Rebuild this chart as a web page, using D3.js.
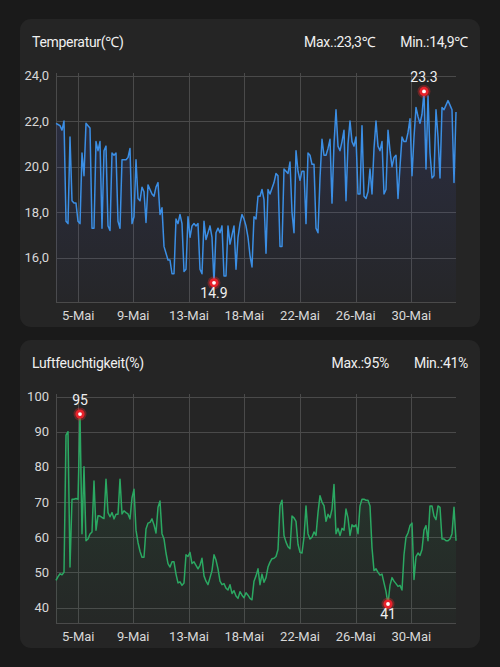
<!DOCTYPE html>
<html lang="de">
  <head>
    <meta charset="utf-8">
    <title>Temperatur / Luftfeuchtigkeit</title>
    <script src="https://cdn.jsdelivr.net/npm/d3@7"></script>
  </head>
  <style type="text/css">
    body {
      margin: 0;
      background: #1a1a1a;
    }
    text {
      font-family: Roboto, "Noto Sans", sans-serif;
    }
    text.head {
      font-size: 14px;
      letter-spacing: -0.3px;
      fill: #f0f0f0;
    }
  </style>
  <body>
    <div id="svg-area"></div>
    <script>
      const svg_width = 500;
      const svg_height = 667;

      // x axis: samples are evenly spaced, labels sit at sample positions
      const tick_labels = ["5-Mai", "9-Mai", "13-Mai", "18-Mai", "22-Mai", "26-Mai", "30-Mai"];
      const tick_index = [11.15, 38.65, 66.5, 94.15, 122, 149.85, 177.65];

      const temp_ticks = [16, 18, 20, 22, 24];
      const hum_ticks = [40, 50, 60, 70, 80, 90, 100];

      const temp_values = [
        21.9, 21.85, 21.8, 21.6, 22.0, 17.6, 17.5, 21.3, 18.5, 18.4,
        18.4, 17.6, 17.5, 20.6, 19.6, 21.9, 21.8, 21.7, 17.3, 17.3,
        21.1, 20.7, 21.1, 17.3, 20.7, 20.9, 17.4, 17.2, 20.6, 20.5,
        20.6, 17.6, 17.3, 20.3, 20.3, 20.3, 20.4, 20.8, 17.5, 17.8,
        20.3, 18.6, 18.5, 19.1, 18.9, 17.55, 19.2, 19.0, 18.8, 18.7,
        19.1, 19.3, 17.9, 18.2, 16.5, 16.2, 15.9, 15.9, 15.3, 15.3,
        17.7, 17.5, 17.9, 17.5, 15.4, 15.5, 17.8, 16.9, 17.4, 17.5,
        17.4, 17.5, 15.5, 15.3, 17.6, 16.8, 17.1, 17.4, 16.9, 14.9,
        17.1, 17.3, 17.1, 17.4, 15.2, 15.2, 17.4, 16.6, 17.0, 17.4,
        15.5, 16.9, 17.5, 17.9, 17.7, 17.4, 16.9, 16.1, 15.6, 17.8,
        17.7, 18.7, 18.7, 19.0, 18.55, 16.2, 19.0, 18.8, 19.05, 19.3,
        19.7, 19.6, 16.5, 16.5, 19.9, 19.8, 19.7, 20.2, 18.0, 17.1,
        20.7, 19.8, 19.4, 19.8, 19.8, 17.5, 20.6, 20.5, 20.1, 20.1,
        17.3, 17.1, 19.5, 21.2, 20.5, 20.5, 20.8, 21.2, 18.4, 21.0,
        22.5, 20.9, 20.7, 21.1, 21.6, 18.5, 21.0, 22.0, 21.1, 20.9,
        21.3, 18.8, 18.8, 21.8, 18.7, 18.6, 18.9, 19.9, 18.8, 20.8,
        22.0, 20.9, 20.7, 21.1, 18.8, 19.0, 21.6, 20.7, 20.0, 20.4,
        20.5, 18.6, 20.0, 21.3, 21.1, 21.1, 21.5, 22.1, 19.6, 21.3,
        22.6, 22.2, 21.9, 22.3, 23.3, 19.9, 23.1, 20.6, 19.5, 19.6,
        22.5, 21.3, 19.5, 22.6, 22.5, 22.7, 22.9, 22.7, 22.5, 19.3,
        22.4
      ];

      const hum_values = [
        47.7, 48.8, 49.6, 49.3, 50.0, 89, 90.0, 51.5, 70.8, 70.8,
        71.0, 70.8, 95, 61, 80, 59, 59.5, 60.9, 61.5, 76,
        62, 66.1, 66, 65.6, 65.3, 76.5, 67, 65.8, 67, 65.2,
        66.5, 66.5, 76.5, 66.6, 67.5, 67, 66.6, 65.2, 71.2, 73.6,
        62, 58.5, 56, 54.3, 54.3, 62.3, 64, 64.2, 65.2, 63.5,
        61.2, 68.5, 70.3, 61, 59.5, 55.5, 52.5, 51.5, 53, 53,
        49.5, 47, 47.3, 46.3, 47, 55, 54.5, 55.7, 52.5, 53,
        52, 51, 52, 54, 49, 47.5, 46.5, 48.5, 50.5, 55,
        53.5, 51, 47.5, 46.5, 46.8, 45.5, 45, 46.5, 44, 44.8,
        43.3, 42.6, 44.5, 43.5, 42.8, 44.2, 43.5, 42.6, 42.2, 47.5,
        49, 51, 46.5, 49.5, 47.2, 48.5, 51.5, 52.9, 53.9, 54,
        54.5, 56.5, 69, 70.5, 60.5, 58.6, 57.3, 56.7, 66, 65.5,
        64.5, 58, 55.7, 55.5, 60, 68.9, 61, 59.5, 60, 61.5,
        60.5, 67, 71.8, 70, 69, 64.5, 66.5, 65.5, 68, 75,
        61, 62.5, 60.5, 62.5, 62, 68, 65.5, 60.5, 63.5, 63,
        63.5, 61, 68.9, 70.8, 70.8, 70.5, 70.5, 68.9, 57, 50.5,
        51, 50, 49.2, 49.5, 47, 44.6, 41, 46.3, 48.5, 47.5,
        46.8, 46, 46.3, 45, 55, 60, 61.2, 63.3, 64, 48,
        54.5, 55.5, 54.8, 56.5, 62, 63.3, 59, 68.9, 68.9, 66,
        65, 68.9, 68.5, 59.5, 59.5, 59, 59, 59.5, 61, 68.5,
        59
      ];

      const svg = d3.select('#svg-area')
        .append('svg')
        .attr('width', svg_width)
        .attr('height', svg_height);

      const defs = svg.append('defs');

      const charts = [
        {
          id: 'temp', top: 19, title: 'Temperatur(℃)',
          values: temp_values, ticks: temp_ticks, color: '#3b8ee4', fill: '#4a5ee0',
          fmt: (v) => d3.format('.1f')(v).replace('.', ','),
          stat: (v) => d3.format('.1f')(v).replace('.', ',') + '℃',
          mark: d3.format('.1f')
        },
        {
          id: 'hum', top: 340, title: 'Luftfeuchtigkeit(%)',
          values: hum_values, ticks: hum_ticks, color: '#2ba862', fill: '#2ba862',
          fmt: d3.format('d'),
          stat: (v) => d3.format('d')(v) + '%',
          mark: d3.format('d')
        }
      ];

      const card_x = 20, card_w = 460, card_h = 308;
      const plot_left = 56, plot_right = 456;

      charts.forEach((c) => {
        const g = svg.append('g').attr('transform', `translate(0,${c.top})`);

        g.append('rect')
          .attr('x', card_x)
          .attr('y', 0)
          .attr('width', card_w)
          .attr('height', card_h)
          .attr('rx', 11)
          .attr('fill', '#252525');

        const vmax = d3.max(c.values);
        const vmin = d3.min(c.values);
        const y_lo = vmin - (vmax - vmin) * 0.1;
        const y_hi = d3.max(c.ticks);

        const x = d3.scaleLinear()
          .domain([0, c.values.length - 1])
          .range([plot_left, plot_right]);
        const y = d3.scaleLinear()
          .domain([y_lo, y_hi])
          .range([283, 56.5]);

        // header texts
        g.append('text')
          .attr('class', 'head')
          .attr('x', 32)
          .attr('y', 28)
          .text(c.title);
        const min_text = g.append('text')
          .attr('class', 'head')
          .attr('x', 468)
          .attr('y', 28)
          .attr('text-anchor', 'end')
          .text('Min.:' + c.stat(vmin));
        const min_w = min_text.node().getComputedTextLength();
        g.append('text')
          .attr('class', 'head')
          .attr('x', 468 - min_w - 25)
          .attr('y', 28)
          .attr('text-anchor', 'end')
          .text('Max.:' + c.stat(vmax));

        // grid
        const grid = g.append('g').attr('stroke', '#4a4a4a').attr('stroke-width', 1);
        grid.selectAll('line.h')
          .data(c.ticks)
          .enter()
          .append('line')
          .attr('x1', plot_left)
          .attr('x2', plot_right)
          .attr('y1', (d) => Math.round(y(d)) + 0.5)
          .attr('y2', (d) => Math.round(y(d)) + 0.5);
        grid.selectAll('line.v')
          .data(tick_index)
          .enter()
          .append('line')
          .attr('x1', (d) => Math.round(x(d)) + 0.5)
          .attr('x2', (d) => Math.round(x(d)) + 0.5)
          .attr('y1', 54)
          .attr('y2', 283);
        grid.append('line')
          .attr('x1', plot_left + 0.5).attr('x2', plot_left + 0.5)
          .attr('y1', 54).attr('y2', 283);
        grid.append('line')
          .attr('x1', plot_left).attr('x2', plot_right)
          .attr('y1', 283.5).attr('y2', 283.5);

        // axes labels
        g.append('g')
          .selectAll('text')
          .data(c.ticks)
          .enter()
          .append('text')
          .attr('x', 49)
          .attr('y', (d) => y(d))
          .attr('dy', '0.35em')
          .attr('text-anchor', 'end')
          .attr('font-size', 13)
          .attr('fill', '#d8d8d8')
          .text(c.fmt);
        g.append('g')
          .selectAll('text')
          .data(tick_labels)
          .enter()
          .append('text')
          .attr('x', (d, i) => x(tick_index[i]))
          .attr('y', 296)
          .attr('dy', '0.35em')
          .attr('text-anchor', 'middle')
          .attr('font-size', 13)
          .attr('fill', '#d8d8d8')
          .text((d) => d);

        // area gradient
        const grad = defs.append('linearGradient')
          .attr('id', 'grad-' + c.id)
          .attr('x1', 0).attr('y1', 0).attr('x2', 0).attr('y2', 1);
        grad.append('stop').attr('offset', '0%').attr('stop-color', c.fill).attr('stop-opacity', 0.16);
        grad.append('stop').attr('offset', '100%').attr('stop-color', c.fill).attr('stop-opacity', 0.02);

        const area = d3.area()
          .x((d, i) => x(i))
          .y0(283)
          .y1((d) => y(d));
        const line = d3.line()
          .x((d, i) => x(i))
          .y((d) => y(d));

        g.append('path')
          .datum(c.values)
          .attr('d', area)
          .attr('fill', `url(#grad-${c.id})`);
        g.append('path')
          .datum(c.values)
          .attr('d', line)
          .attr('fill', 'none')
          .attr('stroke', c.color)
          .attr('stroke-width', 1.5)
          .attr('stroke-linejoin', 'round');

        // max / min markers
        const i_max = d3.maxIndex(c.values);
        const i_min = d3.minIndex(c.values);
        [[i_max, -1], [i_min, 1]].forEach(([i, side]) => {
          const mx = x(i), my = y(c.values[i]);
          g.append('circle').attr('cx', mx).attr('cy', my).attr('r', 6.5)
            .attr('fill', '#ff2a2a').attr('opacity', 0.3);
          g.append('circle').attr('cx', mx).attr('cy', my).attr('r', 4.6)
            .attr('fill', '#e8222b');
          g.append('circle').attr('cx', mx).attr('cy', my).attr('r', 1.9)
            .attr('fill', '#ffffff');
          g.append('text')
            .attr('x', mx)
            .attr('y', side < 0 ? my - 9 : my + 15)
            .attr('text-anchor', 'middle')
            .attr('font-size', 14)
            .attr('fill', '#f0f0f0')
            .text(c.mark(c.values[i]));
        });
      });
    </script>
  </body>
</html>
